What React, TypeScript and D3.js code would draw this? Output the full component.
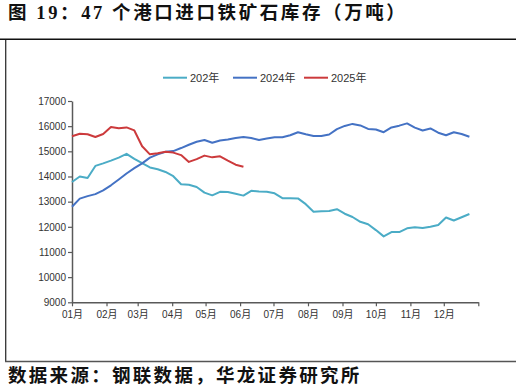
import React, { useEffect, useRef } from 'react';
import * as d3 from 'd3';

// weekly readings, 万吨
const series2023 = [
    13780, 14000, 13940, 14420, 14520, 14630, 14750, 14900, 14700, 14530,
    14360, 14290, 14180, 14010, 13690, 13670, 13580, 13360, 13250, 13390,
    13380, 13310, 13240, 13430, 13400, 13390, 13330, 13140, 13140, 13130,
    12900, 12600, 12620, 12630, 12700, 12520, 12390, 12200, 12100, 11870,
    11620, 11790, 11790, 11940, 11980, 11950, 12000, 12070, 12370, 12250,
    12380, 12510,
];
const series2024 = [
    12800, 13120, 13220, 13300, 13450, 13650, 13880, 14120, 14330, 14520,
    14750, 14880, 14980, 15010, 15130, 15260, 15380, 15450, 15340, 15430,
    15470, 15530, 15570, 15530, 15450, 15510, 15560, 15560, 15640, 15760,
    15680, 15610, 15610, 15670, 15880, 16010, 16090, 16030, 15890, 15870,
    15760, 15950, 16020, 16110, 15940, 15830, 15910, 15740, 15640, 15760,
    15690, 15580,
];
const series2025 = [
    15600, 15700, 15680, 15570, 15690, 15970, 15920, 15950, 15830, 15200,
    14880, 14920, 14980, 14950, 14850, 14580, 14690, 14830, 14760, 14800,
    14630, 14470, 14390,
];
const legendNames = ['202年', '2024年', '2025年'];
const yTicks = [9000, 10000, 11000, 12000, 13000, 14000, 15000, 16000, 17000];

const colors = ['#4bacc6', '#4472c4', '#cc3a3c'];

const W = 521;
const H = 392;
const plot = { left: 72, right: 478.3, top: 101, bottom: 302.3 };

const App: React.FC = () => {
    const ref = useRef<SVGSVGElement>(null);

    useEffect(() => {
        if (!ref.current) return;
        const svg = d3.select(ref.current);
        svg.selectAll('*').remove();

        const start = new Date(2025, 0, 1);
        const end = new Date(2026, 0, 1);

        const x = d3.scaleTime().domain([start, end]).range([plot.left, plot.right]);
        const y = d3.scaleLinear().domain([9000, 17000]).range([plot.bottom, plot.top]);

        // frame
        svg.append('line')
            .attr('x1', 0).attr('x2', 516).attr('y1', 39.2).attr('y2', 39.2)
            .attr('stroke', '#111').attr('stroke-width', 1.6);
        svg.append('line')
            .attr('x1', 5.7).attr('x2', 5.7).attr('y1', 40).attr('y2', 361.5)
            .attr('stroke', '#333').attr('stroke-width', 1.3);
        svg.append('line')
            .attr('x1', 5).attr('x2', 516).attr('y1', 361.5).attr('y2', 361.5)
            .attr('stroke', '#555').attr('stroke-width', 1.5);

        // title + source
        svg.append('text')
            .attr('x', 8).attr('y', 12.5)
            .attr('dominant-baseline', 'central')
            .style('font-family', '"Liberation Serif", "Noto Sans CJK SC", serif')
            .style('font-weight', 'bold')
            .style('font-size', '18.5px')
            .style('letter-spacing', '2.6px')
            .attr('fill', '#111')
            .text('图 19：47 个港口进口铁矿石库存（万吨）');
        svg.append('text')
            .attr('x', 8).attr('y', 375.5)
            .attr('dominant-baseline', 'central')
            .style('font-family', '"Liberation Serif", "Noto Sans CJK SC", serif')
            .style('font-weight', 'bold')
            .style('font-size', '18.5px')
            .style('letter-spacing', '2.3px')
            .attr('fill', '#111')
            .text('数据来源：钢联数据，华龙证券研究所');

        const axisFont = '"Liberation Sans", Arial, "Noto Sans CJK SC", sans-serif';

        // y axis
        const gy = svg.append('g')
            .attr('transform', `translate(${plot.left},0)`)
            .call(d3.axisLeft(y).tickValues(yTicks).tickSize(4).tickSizeOuter(0).tickPadding(2)
                .tickFormat(d => String(d)));
        gy.select('.domain').attr('stroke', '#595959').attr('stroke-width', 1.5);
        gy.selectAll('.tick line').attr('stroke', '#595959').attr('stroke-width', 1.2);
        gy.selectAll('.tick text')
            .style('font-family', axisFont).style('font-size', '10px').attr('fill', '#333');

        // x axis
        const months = d3.timeMonth.range(start, d3.timeDay.offset(end, 1));
        const gx = svg.append('g')
            .attr('transform', `translate(0,${plot.bottom})`)
            .call(d3.axisBottom(x).tickValues(months).tickSize(4).tickSizeOuter(0).tickPadding(5)
                .tickFormat(d => ((d as Date).getFullYear() === 2025 ? d3.timeFormat('%m月')(d as Date) : '')));
        gx.select('.domain').attr('stroke', '#595959').attr('stroke-width', 1.5);
        gx.selectAll('.tick line').attr('stroke', '#595959').attr('stroke-width', 1.2);
        gx.selectAll('.tick text')
            .style('font-family', axisFont).style('font-size', '10px').attr('fill', '#333');

        // lines
        const weekDate = (i: number) => d3.timeDay.offset(start, 7 * i);
        const line = d3.line<number>()
            .x((_, i) => x(weekDate(i)))
            .y(d => y(d));

        [series2023, series2024, series2025].forEach((s, k) => {
            svg.append('path')
                .datum(s)
                .attr('d', line)
                .attr('fill', 'none')
                .attr('stroke', colors[k])
                .attr('stroke-width', 2)
                .attr('stroke-linejoin', 'round');
        });

        // legend
        const legendX = [163, 233, 304];
        const legendY = 77.7;
        legendNames.forEach((name, k) => {
            const g = svg.append('g').attr('transform', `translate(${legendX[k]},${legendY})`);
            g.append('line')
                .attr('x1', 0).attr('x2', 24).attr('y1', 0).attr('y2', 0)
                .attr('stroke', colors[k]).attr('stroke-width', 2);
            g.append('text')
                .attr('x', 27).attr('y', 0)
                .attr('dominant-baseline', 'central')
                .style('font-family', axisFont).style('font-size', '11px')
                .attr('fill', '#333')
                .text(name);
        });
    }, []);

    return (
        <svg
            ref={ref}
            width={W}
            height={H}
            style={{ position: 'absolute', left: 0, top: 0, background: '#fff' }}
        />
    );
};

export default App;
